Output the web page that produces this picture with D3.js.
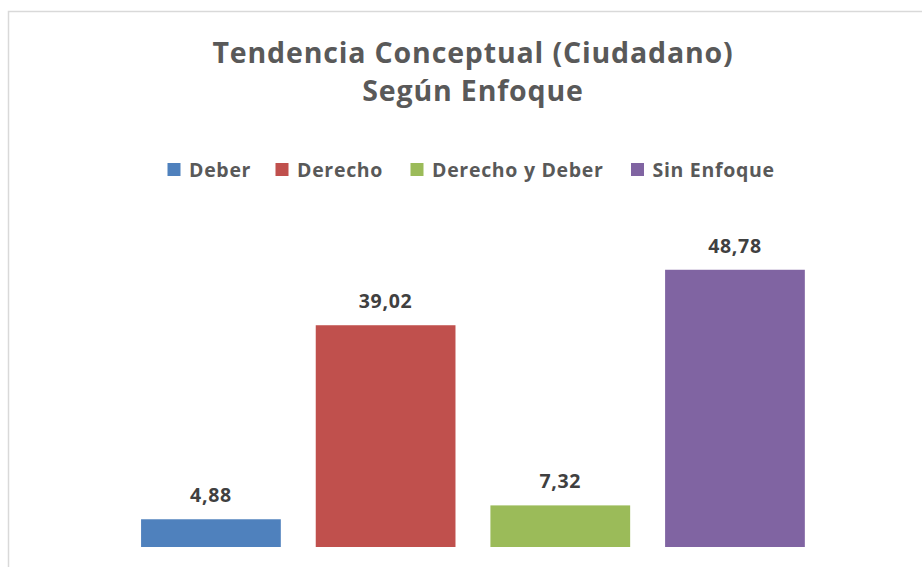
<!DOCTYPE html>
<html><head><meta charset="utf-8">
<script src="https://cdn.jsdelivr.net/npm/d3@7"></script>
<style>body{margin:0;background:#fff}svg{display:block}</style>
</head><body>
<script>
const categories = ["Deber", "Derecho", "Derecho y Deber", "Sin Enfoque"];
const values = [4.88, 39.02, 7.32, 48.78];
const valueLabels = ["4,88", "39,02", "7,32", "48,78"];
const colors = ["#4F81BD", "#C0504D", "#9BBB59", "#8064A2"];
const titleLines = ["Tendencia Conceptual (Ciudadano)", "Según Enfoque"];

const W = 922, H = 567;
const font = "'Open Sans', sans-serif";
const svg = d3.select("body").append("svg").attr("width", W).attr("height", H);
svg.append("rect").attr("x", 8.5).attr("y", 11.5).attr("width", W).attr("height", H)
  .attr("fill", "#fff").attr("stroke", "#d9d9d9").attr("stroke-width", 1.5);

const x = d3.scaleBand().domain(categories).range([123.6, 822.3]).paddingInner(0.2).paddingOuter(0.1);
const y = d3.scaleLinear().domain([0, 60]).range([547, 206]);

svg.append("g").selectAll("text").data(titleLines).join("text")
  .attr("x", 473).attr("y", (d, i) => 63 + i * 37.5)
  .attr("text-anchor", "middle").attr("font-family", font).attr("font-weight", 700)
  .attr("font-size", 28.5).attr("letter-spacing", 0.85).attr("fill", "#595959").text(d => d);

// legend
const legendX = [167.5, 275.5, 410.5, 631];
const lg = svg.append("g").selectAll("g").data(categories).join("g")
  .attr("transform", (d, i) => `translate(${legendX[i]},163)`);
lg.append("rect").attr("x", 0).attr("y", 0).attr("width", 13).attr("height", 13)
  .attr("fill", (d, i) => colors[i]);
lg.append("text").attr("x", 21.5).attr("y", 13.7).attr("font-family", font).attr("font-weight", 700)
  .attr("font-size", 19.5).attr("letter-spacing", 0.7).attr("fill", "#595959").text(d => d);

svg.append("g").selectAll("rect").data(categories).join("rect")
  .attr("x", d => x(d)).attr("width", x.bandwidth())
  .attr("y", (d, i) => y(values[i])).attr("height", (d, i) => y(0) - y(values[i]))
  .attr("fill", (d, i) => colors[i]);

svg.append("g").selectAll("text").data(categories).join("text")
  .attr("x", d => x(d) + x.bandwidth() / 2)
  .attr("y", (d, i) => y(values[i]) - 17)
  .attr("text-anchor", "middle").attr("font-family", font).attr("font-weight", 700)
  .attr("font-size", 19.5).attr("letter-spacing", 0.7).attr("fill", "#404040").text((d, i) => valueLabels[i]);
</script>
</body></html>
